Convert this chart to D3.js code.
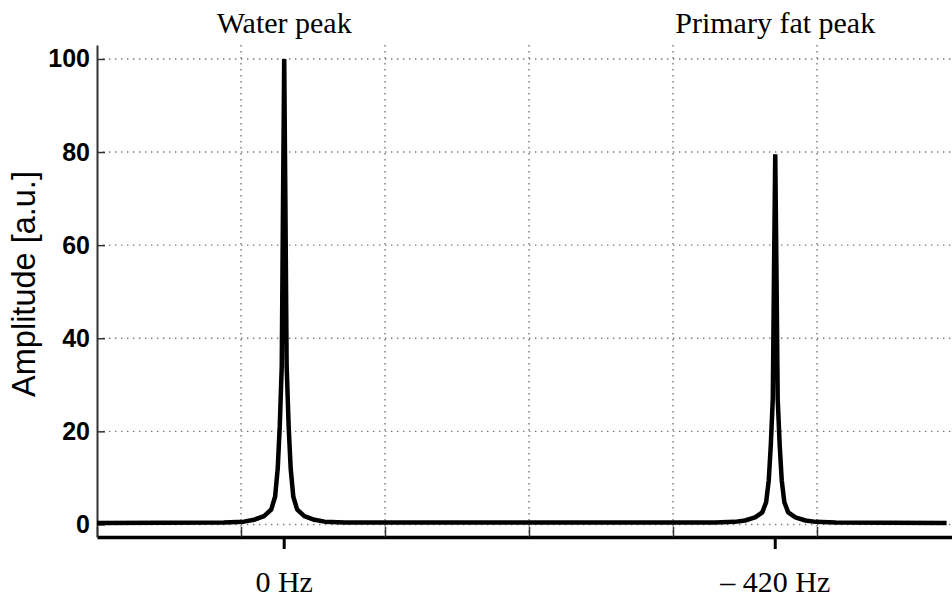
<!DOCTYPE html>
<html>
<head>
<meta charset="utf-8">
<script src="https://cdn.jsdelivr.net/npm/d3@7"></script>
<style>
  body { margin: 0; background: #fff; }
  svg { display: block; }
</style>
</head>
<body>
<div id="chart"></div>
<script>
// spectrum samples, chemical shift in ppm (left = high ppm)
const spectrumPpm = [6.0, 5.12, 4.98, 4.91, 4.84, 4.79, 4.763, 4.745, 4.731, 4.717, 4.708, 4.70,
  4.692, 4.683, 4.669, 4.655, 4.637, 4.61, 4.56, 4.49, 4.42, 4.28,
  1.71, 1.57, 1.50, 1.43, 1.38, 1.353, 1.335, 1.321, 1.307, 1.298, 1.29,
  1.282, 1.273, 1.259, 1.245, 1.227, 1.20, 1.15, 1.08, 1.01, 0.87, 0.10];
const spectrumAmp = [0.3, 0.4, 0.6, 1.0, 1.8, 3.2, 6, 12, 21, 34, 70, 100,
  70, 34, 21, 12, 6, 3.2, 1.8, 1.0, 0.6, 0.4,
  0.4, 0.55, 0.85, 1.5, 2.6, 4.8, 9.5, 17, 27, 56, 79.5,
  56, 27, 17, 9.5, 4.8, 2.6, 1.5, 0.85, 0.55, 0.4, 0.3];

const peakPpm = [4.7, 1.29];
const peakNames = ["Water peak", "Primary fat peak"];
const peakHz = ["0 Hz", "\u2013 420 Hz"];

const yTicks = [0, 20, 40, 60, 80, 100];
const xGrid = [5, 4, 3, 2, 1];
const xTicks = [6, 5, 4, 3, 2, 1];

const W = 952, H = 597;
const x = d3.scaleLinear([6, 0], [97, 961]);
const y = d3.scaleLinear([-2.7, 103], [537, 45]);

const svg = d3.select("#chart").append("svg")
  .attr("width", W).attr("height", H);

svg.append("rect").attr("width", W).attr("height", H).attr("fill", "#fff");

// GRID
const grid = svg.append("g")
  .attr("stroke", "#777")
  .attr("stroke-width", 1.4)
  .attr("stroke-dasharray", "1.4,4.6");

grid.selectAll("line.h").data(yTicks).enter().append("line")
  .attr("x1", x(6)).attr("x2", W)
  .attr("y1", d => y(d)).attr("y2", d => y(d));

grid.selectAll("line.v").data(xGrid).enter().append("line")
  .attr("x1", d => x(d)).attr("x2", d => x(d))
  .attr("y1", y(103)).attr("y2", y(-2.7));

// AXES
const yAxis = svg.append("g")
  .attr("transform", `translate(${x(6)},0)`)
  .call(d3.axisLeft(y).tickValues(yTicks).tickSize(-8).tickSizeOuter(0).tickPadding(7));
yAxis.select(".domain").attr("stroke", "#333").attr("stroke-width", 2);
yAxis.selectAll(".tick line").attr("stroke", "#333").attr("stroke-width", 1.5);
yAxis.selectAll(".tick text")
  .attr("fill", "#000")
  .style("font-family", "'Liberation Sans', Arial, sans-serif")
  .style("font-weight", "bold")
  .style("font-size", "25px");

const xAxis = svg.append("g")
  .attr("transform", `translate(0,${y(-2.7)})`)
  .call(d3.axisBottom(x).tickValues(xTicks).tickSize(-10).tickSizeOuter(0).tickFormat(""));
xAxis.select(".domain").attr("stroke", "#000").attr("stroke-width", 3.5);
xAxis.selectAll(".tick line").attr("stroke", "#333").attr("stroke-width", 1.5);

// SPECTRUM LINE
const pts = spectrumPpm.map((p, i) => [p, spectrumAmp[i]]);
svg.append("path")
  .datum(pts)
  .attr("fill", "none")
  .attr("stroke", "#000")
  .attr("stroke-width", 4.5)
  .attr("stroke-linejoin", "bevel")
  .attr("d", d3.line().x(d => x(d[0])).y(d => y(d[1])));

// PEAK MARKERS AND LABELS
svg.selectAll("line.pk").data(peakPpm).enter().append("line")
  .attr("x1", d => x(d)).attr("x2", d => x(d))
  .attr("y1", y(-2.7)).attr("y2", y(-2.7) + 12)
  .attr("stroke", "#000").attr("stroke-width", 3);

svg.selectAll("text.top").data(peakPpm).enter().append("text")
  .attr("x", d => x(d)).attr("y", 33)
  .attr("text-anchor", "middle")
  .style("font-family", "'Liberation Serif', 'Times New Roman', serif")
  .style("font-size", "30px")
  .text((d, i) => peakNames[i]);

svg.selectAll("text.bot").data(peakPpm).enter().append("text")
  .attr("x", d => x(d)).attr("y", 592)
  .attr("text-anchor", "middle")
  .style("font-family", "'Liberation Serif', 'Times New Roman', serif")
  .style("font-size", "30px")
  .text((d, i) => peakHz[i]);

// Y AXIS TITLE
svg.append("text")
  .attr("transform", "translate(35,284) rotate(-90)")
  .attr("text-anchor", "middle")
  .style("font-family", "'Liberation Sans', Arial, sans-serif")
  .style("font-size", "32.5px")
  .text("Amplitude [a.u.]");
</script>
</body>
</html>
